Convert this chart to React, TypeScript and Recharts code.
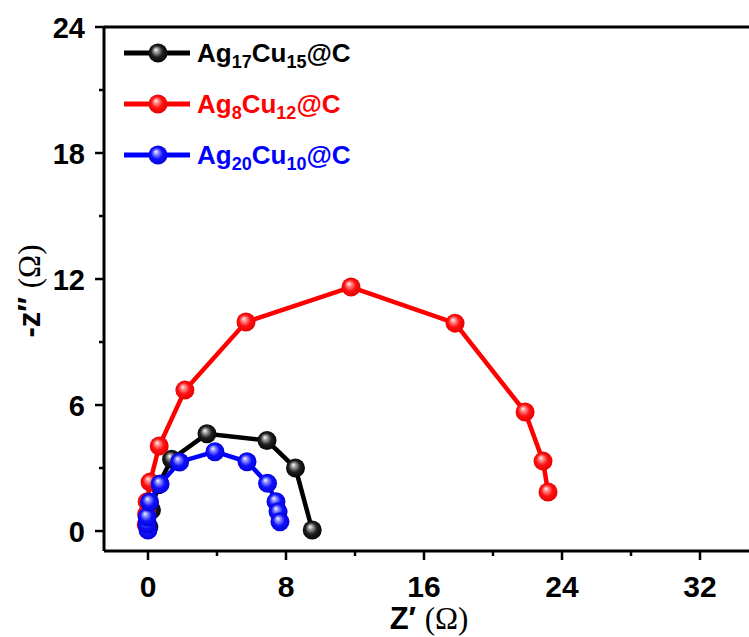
import React from 'react';
import { ScatterChart, Scatter, XAxis, YAxis, ReferenceLine } from 'recharts';

// Nyquist data, Z' (x) vs -Z'' (y), in ohm
const ag17cu15 = [
  { x: 0.05, y: 0.2 }, { x: 0.2, y: 1.0 }, { x: 0.6, y: 2.2 }, { x: 1.37, y: 3.42 },
  { x: 3.42, y: 4.63 }, { x: 6.9, y: 4.31 }, { x: 8.55, y: 3.0 }, { x: 9.52, y: 0.05 },
];
const ag8cu12 = [
  { x: -0.1, y: 0.3 }, { x: -0.08, y: 0.8 }, { x: -0.05, y: 1.4 }, { x: 0.12, y: 2.33 },
  { x: 0.65, y: 4.05 }, { x: 2.14, y: 6.71 }, { x: 5.68, y: 9.95 }, { x: 11.77, y: 11.62 },
  { x: 17.8, y: 9.9 }, { x: 21.86, y: 5.67 }, { x: 22.9, y: 3.33 }, { x: 23.19, y: 1.86 },
];
const ag20cu10 = [
  { x: 0.0, y: 0.05 }, { x: -0.05, y: 0.33 }, { x: -0.05, y: 0.67 }, { x: 0.09, y: 1.38 },
  { x: 0.7, y: 2.24 }, { x: 1.83, y: 3.29 }, { x: 3.88, y: 3.78 }, { x: 5.74, y: 3.3 },
  { x: 6.93, y: 2.27 }, { x: 7.42, y: 1.4 }, { x: 7.54, y: 0.92 }, { x: 7.65, y: 0.44 },
];

const xTicks = [0, 4, 8, 12, 16, 20, 24, 28, 32];
const yTicks = [0, 3, 6, 9, 12, 15, 18, 21, 24];

const series = [
  { a: '17', b: '15', color: '#000000', grad: 'gBlack', data: ag17cu15 },
  { a: '8', b: '12', color: '#ff0000', grad: 'gRed', data: ag8cu12 },
  { a: '20', b: '10', color: '#0000ff', grad: 'gBlue', data: ag20cu10 },
];

const sans = '"Liberation Sans", Arial, sans-serif';
const serif = '"Liberation Serif", "Times New Roman", serif';

const Ball = (grad: string) => (props: any) => {
  const { cx, cy } = props;
  if (cx == null || cy == null) return null;
  return <circle cx={cx} cy={cy} r={9.5} fill={`url(#${grad})`} />;
};

const XTick = (props: any) => {
  const { x, y, payload } = props;
  const major = Math.abs(payload.value % 8) < 1e-6;
  return (
    <g>
      <line x1={x} x2={x} y1={y} y2={y + (major ? 9 : 5)} stroke="#000" strokeWidth={2.5} />
      {major && (
        <text x={x} y={y + 46} textAnchor="middle" fontFamily={sans} fontWeight="bold" fontSize={30} fill="#000">
          {payload.value}
        </text>
      )}
    </g>
  );
};

const YTick = (props: any) => {
  const { x, y, payload } = props;
  const major = Math.abs(payload.value % 6) < 1e-6;
  return (
    <g>
      <line x1={x} x2={x - (major ? 9 : 5)} y1={y} y2={y} stroke="#000" strokeWidth={2.5} />
      {major && (
        <text x={x - 19} y={y + 10.5} textAnchor="end" fontFamily={sans} fontWeight="bold" fontSize={29} fill="#000">
          {payload.value}
        </text>
      )}
    </g>
  );
};

const gradient = (id: string, light: string, mid: string, dark: string) => (
  <radialGradient id={id} cx="50%" cy="50%" r="55%" fx="38%" fy="32%">
    <stop offset="0%" stopColor="#ffffff" />
    <stop offset="18%" stopColor={light} />
    <stop offset="55%" stopColor={mid} />
    <stop offset="100%" stopColor={dark} />
  </radialGradient>
);

export default function App() {
  return (
    <div style={{ position: 'absolute', left: 0, top: 0, width: 749, height: 637, background: '#fff' }}>
      <ScatterChart width={749} height={637} margin={{ top: 27, right: 0, bottom: 46, left: 44 }}>
        <defs>
          {gradient('gBlack', '#b0b0b0', '#202020', '#000000')}
          {gradient('gRed', '#ff9a9a', '#ff1010', '#e00000')}
          {gradient('gBlue', '#a0a0ff', '#1010ff', '#0000d0')}
        </defs>
        <XAxis
          type="number"
          dataKey="x"
          domain={[-2.55, 34.84]}
          ticks={xTicks}
          allowDataOverflow
          height={40}
          tickSize={0}
          tickMargin={0}
          tick={<XTick />}
          axisLine={{ stroke: '#000', strokeWidth: 3 }}
          tickLine={false}
        />
        <YAxis
          type="number"
          dataKey="y"
          domain={[-0.95, 24]}
          ticks={yTicks}
          allowDataOverflow
          width={60}
          tickSize={0}
          tickMargin={0}
          tick={<YTick />}
          axisLine={{ stroke: '#000', strokeWidth: 3 }}
          tickLine={false}
        />
        <ReferenceLine y={24} stroke="#000" strokeWidth={3} />
        {series.map((s) => (
          <Scatter
            key={s.grad}
            data={s.data}
            fill={s.color}
            line={{ stroke: s.color, strokeWidth: 4.5 }}
            shape={Ball(s.grad)}
            isAnimationActive={false}
          />
        ))}
      </ScatterChart>
      <svg width={749} height={637} style={{ position: 'absolute', left: 0, top: 0, pointerEvents: 'none' }}>
        {series.map((s, i) => {
          const cy = 53 + i * 51;
          return (
            <g key={s.grad}>
              <line x1={124} x2={190} y1={cy} y2={cy} stroke={s.color} strokeWidth={5} />
              <circle cx={158} cy={cy} r={9.5} fill={`url(#${s.grad})`} />
              <text x={197} y={cy + 9} fontFamily={sans} fontWeight="bold" fontSize={26} fill={s.color}>
                Ag
                <tspan fontSize={18} dy={6}>{s.a}</tspan>
                <tspan dy={-6}>Cu</tspan>
                <tspan fontSize={18} dy={6}>{s.b}</tspan>
                <tspan dy={-6}>@C</tspan>
              </text>
            </g>
          );
        })}
        <text transform="translate(40,291) rotate(-90)" textAnchor="middle" fontSize={31} fill="#000">
          <tspan fontFamily={sans} fontWeight="bold">-z″ </tspan>
          <tspan fontFamily={serif}>(Ω)</tspan>
        </text>
        <text x={429} y={629} textAnchor="middle" fontSize={31} fill="#000">
          <tspan fontFamily={sans} fontWeight="bold">Z′ </tspan>
          <tspan fontFamily={serif}>(Ω)</tspan>
        </text>
      </svg>
    </div>
  );
}
